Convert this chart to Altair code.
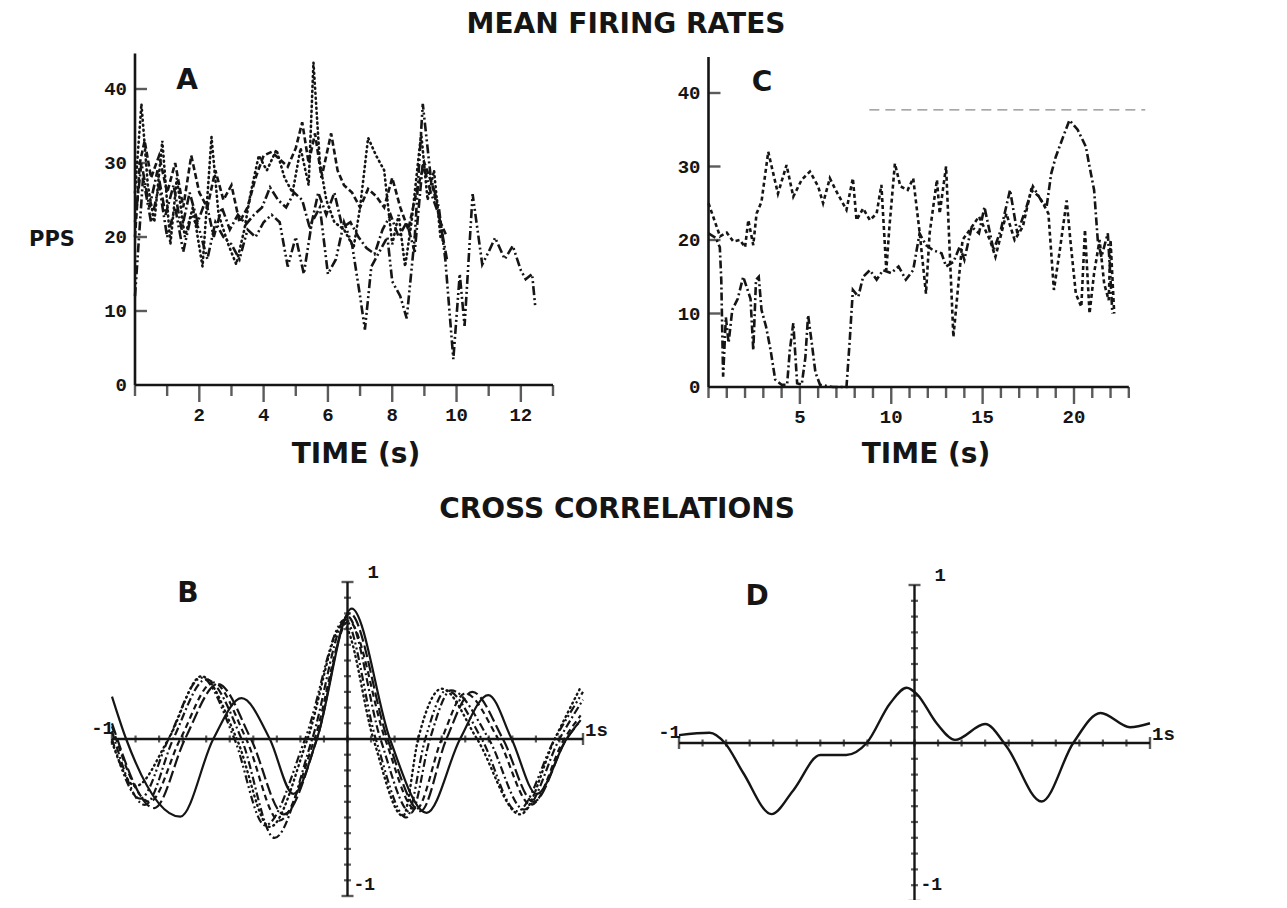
import altair as alt
import pandas as pd

INK = "#151515"
MONO = "Liberation Mono"
SANS = "DejaVu Sans"

# ---------------- data ----------------
# Panel A: mean firing rates (PPS) of four units vs time (s)
a1_t = [0.0, 0.25, 0.5, 0.75, 1.0, 1.25, 1.5, 1.75, 2.0, 2.25, 2.5, 2.75, 3.0, 3.25, 3.5, 3.75, 4.0, 4.25,
        4.5, 4.75, 5.0, 5.25, 5.5, 5.75, 6.0, 6.25, 6.5, 6.75, 7.0, 7.15, 7.35, 7.6, 7.85, 8.0, 8.25, 8.45,
        8.7, 8.95, 9.2, 9.45, 9.65, 9.9, 10.1, 10.25, 10.5, 10.8, 11.0, 11.2, 11.5, 11.75, 12.0, 12.15,
        12.35, 12.45]
a1_v = [12, 28, 22, 27, 20, 24, 18, 23, 21, 17, 22, 20, 19, 17, 21, 20, 22, 23, 22, 16, 20, 15, 22, 24,
        15, 17, 22, 19, 12, 7.5, 16, 18, 20, 14, 12, 9, 20, 38, 28, 24, 17, 3.5, 15, 8, 25.8, 16.3, 18,
        19.9, 17, 18.8, 15.5, 14.3, 15, 10.5]
a2_t = [0.0, 0.15, 0.3, 0.5, 0.75, 1.0, 1.25, 1.5, 1.75, 2.0, 2.25, 2.5, 2.75, 3.0, 3.25, 3.5, 3.75, 4.0,
        4.25, 4.5, 4.75, 5.0, 5.2, 5.4, 5.6, 5.8, 6.1, 6.3, 6.5, 6.75, 7.0, 7.25, 7.5, 7.75, 8.0, 8.25, 8.5,
        8.75, 9.0, 9.25, 9.5, 9.7]
a2_v = [20, 30, 33, 28, 31, 26, 30, 24, 31, 26, 24, 29, 25, 27, 22, 24, 28, 31, 31.5, 30.5, 29.5, 32,
        35.5, 30, 34, 28, 34, 29, 27, 26, 24, 26.5, 25.5, 24, 28, 24, 21, 26, 30, 27, 22, 20]
a3_t = [0.0, 0.2, 0.4, 0.6, 0.85, 1.1, 1.3, 1.55, 1.8, 2.1, 2.38, 2.6, 2.9, 3.15, 3.4, 3.6, 3.85, 4.1, 4.4,
        4.65, 4.9, 5.15, 5.4, 5.55, 5.75, 5.95, 6.2, 6.5, 6.8, 7.0, 7.25, 7.5, 7.75, 8.0, 8.2, 8.4, 8.6,
        8.9, 9.1, 9.3, 9.5, 9.65]
a3_v = [26, 38, 27, 22, 33, 19, 28, 20, 24, 16, 33.5, 23, 19, 16.3, 21, 26, 31, 29, 31.8, 28, 26, 32, 27,
        43.6, 30, 25, 22, 21, 18.6, 24, 33.4, 31, 29, 19, 23, 16, 22, 34, 25, 29, 20, 19]
a4_t = [0.0, 0.2, 0.45, 0.7, 0.95, 1.2, 1.45, 1.7, 1.95, 2.2, 2.45, 2.7, 2.95, 3.2, 3.45, 3.7, 3.95, 4.2,
        4.45, 4.7, 4.95, 5.2, 5.45, 5.7, 5.95, 6.2, 6.45, 6.7, 6.95, 7.2, 7.45, 7.7, 7.95, 8.2, 8.45, 8.7,
        8.95, 9.2, 9.45, 9.7]
a4_v = [22, 30, 24, 29, 23, 27, 21, 26, 22, 25, 20, 24, 21, 23, 21.7, 23, 24, 26.7, 25, 24, 26, 25, 21,
        26, 23, 26, 21.3, 22, 20, 18.5, 17.7, 21, 23, 20, 22, 18, 30, 26, 23, 17]

# Panel C: mean firing rates (PPS) of two units vs time (s)
c1_t = [0.0, 0.63, 1.0, 1.36, 1.72, 2.0, 2.18, 2.45, 2.63, 2.9, 3.27, 3.8, 4.27, 4.64, 5.1, 5.55, 6.0,
        6.27, 6.64, 7.0, 7.55, 7.9, 8.1, 8.46, 8.83, 9.2, 9.46, 9.73, 9.9, 10.2, 10.5, 10.9, 11.2, 11.55,
        11.9, 12.1, 12.5, 12.65, 13.0, 13.4, 13.9, 14.3, 14.8, 15.4, 15.7, 16.3, 16.75, 17.2, 17.65, 18.1,
        18.6, 18.9, 19.2, 19.6, 19.8, 20.1, 20.4, 20.6, 20.85, 21.1, 21.4, 21.65, 21.9, 22.0, 22.2]
c1_v = [25, 20.5, 21, 19.8, 20, 19, 22.7, 19.3, 23.6, 25.2, 32, 26.3, 30.2, 25.9, 28.2, 29.3, 27.3, 25,
        28.4, 26.6, 24.1, 28.4, 22.7, 24.3, 22.7, 23.6, 27.5, 15.9, 21.8, 30.4, 27.3, 26.8, 28.4, 21.1,
        12.7, 20.9, 28.2, 23.6, 30, 6.8, 20, 21.4, 23.2, 20, 17.7, 23.6, 20, 21.8, 26.8, 25.9, 23.6, 13.2,
        18.2, 25.4, 20, 12.7, 10.9, 21.4, 10, 15.5, 20, 14.1, 11.8, 20, 10]
c2_t = [0.0, 0.4, 0.62, 0.7, 0.8, 0.95, 1.1, 1.3, 1.6, 1.9, 2.1, 2.3, 2.45, 2.6, 2.75, 2.9, 3.15, 3.4,
        3.65, 4.0, 4.3, 4.45, 4.64, 4.85, 5.1, 5.3, 5.45, 5.65, 5.85, 6.1, 6.8, 7.55, 7.73, 7.9, 8.2, 8.46,
        8.83, 9.2, 9.55, 10.0, 10.4, 10.8, 11.2, 11.55, 11.9, 12.3, 12.75, 13.0, 13.4, 13.75, 14.0, 14.4,
        14.8, 15.1, 15.6, 16.0, 16.5, 16.9, 17.4, 17.75, 18.2, 18.5, 18.75, 19.0, 19.4, 19.75, 20.2,
        20.65, 20.85, 21.1, 21.3, 21.5, 21.85, 22.0, 22.1]
c2_v = [20.9, 20.3, 19, 14.5, 1.4, 9.5, 6, 10.5, 12, 15, 13.5, 12, 5, 14.6, 15, 10.5, 8.2, 5, 1.0, 0.3,
        0.3, 5, 8.7, 0.5, 0.3, 4, 9.8, 6, 2, 0.3, 0, 0, 6.4, 13.2, 12.3, 15, 15.9, 14.6, 15.9, 15.5, 16.4,
        14.6, 15.9, 20.9, 19.3, 18.6, 18.2, 16.4, 17, 19.1, 17.3, 21.8, 20.9, 24.5, 18.6, 21.4, 26.8, 20.9,
        24.5, 27.3, 25.4, 24.5, 29, 31.3, 34, 36.3, 35, 32.7, 30, 26.8, 20, 17.7, 20.9, 14.6, 10]
c_scan_line_v = 37.7          # faint scanner streak across panel C
c_scan_line_t = [8.8, 23.9]

# Panel B: cross-correlations (lag in s, r) - six pairs, key points of each curve
b0_x = [-1.0, -0.94, -0.71, -0.57, -0.45, -0.33, -0.23, -0.13, 0.018, 0.18, 0.336, 0.478, 0.598, 0.697, 0.803, 0.93, 0.99]
b0_y = [0.27, 0.0, -0.495, 0.0, 0.26, 0.0, -0.35, 0.0, 0.83, 0.0, -0.47, 0.0, 0.28, 0.0, -0.35, 0.0, 0.12]
b1_x = [-1.0, -0.90, -0.76, -0.62, -0.47, -0.33, -0.17, -0.018, 0.11, 0.236, 0.30, 0.40, 0.55, 0.733, 0.88, 0.99]
b1_y = [-0.02, -0.30, 0.0, 0.40, 0.0, -0.56, 0.0, 0.73, 0.0, -0.49, 0.0, 0.32, 0.0, -0.48, 0.0, 0.33]
b2_x = [-1.0, -0.86, -0.74, -0.60, -0.45, -0.31, -0.15, 0.0, 0.14, 0.27, 0.35, 0.44, 0.60, 0.75, 0.90, 1.0]
b2_y = [0.05, -0.42, 0.0, 0.38, 0.0, -0.63, 0.0, 0.78, 0.0, -0.47, 0.0, 0.31, 0.0, -0.45, 0.0, 0.25]
b3_x = [-1.0, -0.84, -0.71, -0.57, -0.43, -0.29, -0.14, 0.005, 0.16, 0.29, 0.40, 0.50, 0.64, 0.78, 0.92, 0.99]
b3_y = [0.08, -0.40, 0.0, 0.36, 0.0, -0.52, 0.0, 0.75, 0.0, -0.45, 0.0, 0.29, 0.0, -0.42, 0.0, 0.15]
b4_x = [-1.0, -0.88, -0.76, -0.62, -0.48, -0.35, -0.18, -0.01, 0.12, 0.25, 0.33, 0.42, 0.57, 0.72, 0.88, 1.0]
b4_y = [0.0, -0.38, 0.0, 0.39, 0.0, -0.55, 0.0, 0.76, 0.0, -0.50, 0.0, 0.31, 0.0, -0.46, 0.0, 0.30]
b5_x = [-1.0, -0.82, -0.69, -0.55, -0.41, -0.27, -0.13, 0.01, 0.17, 0.31, 0.42, 0.53, 0.66, 0.79, 0.93, 0.98]
b5_y = [0.10, -0.44, 0.0, 0.35, 0.0, -0.48, 0.0, 0.80, 0.0, -0.46, 0.0, 0.30, 0.0, -0.40, 0.0, 0.10]

# Panel D: cross-correlation of the two units in C
d_x = [-1.0, -0.87, -0.805, -0.727, -0.607, -0.515, -0.40, -0.29, -0.203, -0.104, -0.033, 0.01, 0.094,
       0.172, 0.30, 0.39, 0.54, 0.674, 0.79, 0.915, 1.0]
d_y = [0.05, 0.065, 0.0, -0.19, -0.45, -0.30, -0.076, -0.076, 0.0, 0.25, 0.35, 0.31, 0.125, 0.02, 0.12,
       -0.02, -0.37, 0.0, 0.19, 0.10, 0.125]

# tick labels / tick positions
a_xlabels = [2, 4, 6, 8, 10, 12]
a_ylabels = [0, 10, 20, 30, 40]
a_xticks = list(range(0, 14))
a_xmajor = [2, 4, 6, 8, 10, 12]
c_xlabels = [5, 10, 15, 20]
c_ylabels = [0, 10, 20, 30, 40]
c_xticks = list(range(0, 24))
c_xmajor = [5, 10, 15, 20]
corr_ticks = [round(-1 + 0.1 * i, 1) for i in range(21)]

# ---------------- layout (page pixels) ----------------
W, H, M = 1271, 892, 8


def dom_x(v0, p0, v1, p1):
    p0, p1 = p0 - M, p1 - M
    k = (p1 - p0) / (v1 - v0)
    d0 = v0 - p0 / k
    return [d0, d0 + W / k]


def dom_y(v0, p0, v1, p1):
    q0, q1 = H - (p0 - M), H - (p1 - M)
    k = (q1 - q0) / (v1 - v0)
    d0 = v0 - q0 / k
    return [d0, d0 + H / k]


def sc(dom):
    return alt.Scale(domain=dom, nice=False, zero=False)


def enc(xs, ys, xf="x", yf="y"):
    return dict(x=alt.X(f"{xf}:Q", scale=xs, axis=None), y=alt.Y(f"{yf}:Q", scale=ys, axis=None))


def line(xv, yv, xs, ys, dash=None, width=2.6, interp="linear", cap="butt"):
    df = pd.DataFrame({"x": xv, "y": yv})
    kw = dict(color=INK, strokeWidth=width, interpolate=interp, strokeCap=cap, clip=False)
    if dash:
        kw["strokeDash"] = dash
    return alt.Chart(df).mark_line(**kw).encode(**enc(xs, ys))


def rule(x0, x1, y0, y1, xs, ys, width=2.6, color=INK, dash=None):
    df = pd.DataFrame({"x": [x0], "x2": [x1], "y": [y0], "y2": [y1]})
    kw = dict(color=color, strokeWidth=width)
    if dash:
        kw["strokeDash"] = dash
    return alt.Chart(df).mark_rule(**kw).encode(x2="x2:Q", y2="y2:Q", **enc(xs, ys))


def ticks(xv, yv, xs, ys, orient, size, off=0, thick=2.4):
    df = pd.DataFrame({"x": xv, "y": yv})
    kw = dict(color=INK, orient=orient, size=size, thickness=thick)
    if orient == "vertical":
        kw["yOffset"] = off
    else:
        kw["xOffset"] = off
    return alt.Chart(df).mark_tick(**kw).encode(**enc(xs, ys))


def labels(xv, yv, texts, xs, ys, align="center", baseline="middle", dx=0, dy=0, size=19):
    df = pd.DataFrame({"x": xv, "y": yv, "label": texts})
    return alt.Chart(df).mark_text(font=MONO, fontWeight="bold", fontSize=size, color=INK,
                                   align=align, baseline=baseline, dx=dx, dy=dy).encode(
        text="label:N", **enc(xs, ys))


def time_panel(xs, ys, xmax, ytop, xticks_all, xmajor, xlabels, ylabels, series):
    layers = []
    layers.append(rule(0, 0, 0, ytop, xs, ys))
    layers.append(rule(0, xmax, 0, 0, xs, ys))
    minor = [t for t in xticks_all if t not in xmajor]
    layers.append(ticks(minor, [0] * len(minor), xs, ys, "vertical", 11, 5.5))
    layers.append(ticks(xmajor, [0] * len(xmajor), xs, ys, "vertical", 17, 8.5))
    yt = [v for v in ylabels if v != 0]
    layers.append(ticks([0] * len(yt), yt, xs, ys, "horizontal", 12, 6))
    layers.append(labels(xlabels, [0] * len(xlabels), [str(v) for v in xlabels], xs, ys, dy=30))
    layers.append(labels([0] * len(ylabels), ylabels, [str(v) for v in ylabels], xs, ys,
                         align="right", dx=-8))
    layers += series
    return alt.layer(*layers)


def corr_panel(xs, ys, series, bottom_dy):
    inner = [t for t in corr_ticks if abs(t) < 1]
    ends = [-1.0, 1.0]
    layers = [
        rule(-1, 1, 0, 0, xs, ys, width=2.4),
        rule(0, 0, -1, 1, xs, ys, width=2.4),
        ticks(inner, [0] * len(inner), xs, ys, "vertical", 7, 0, 2.2),
        ticks(ends, [0, 0], xs, ys, "vertical", 12, 0, 2.4),
        ticks([0] * len(inner), inner, xs, ys, "horizontal", 7, 0, 2.2),
        ticks([0, 0], ends, xs, ys, "horizontal", 12, 0, 2.4),
        labels([-1], [0], ["-1"], xs, ys, align="right", baseline="bottom", dx=2, dy=-1),
        labels([1], [0], ["1s"], xs, ys, align="left", baseline="bottom", dx=2, dy=1),
        labels([0], [1], ["1"], xs, ys, align="left", baseline="bottom", dx=20, dy=0),
        labels([0], [-1], ["-1"], xs, ys, align="left", baseline="bottom", dx=6, dy=bottom_dy, size=18),
    ]
    layers += series
    return alt.layer(*layers)


# ---- panel A ----
axA, ayA = sc(dom_x(0, 135, 13, 553)), sc(dom_y(0, 385, 40, 89))
panelA = time_panel(axA, ayA, 13, 44.8, a_xticks, a_xmajor, a_xlabels, a_ylabels, [
    line(a1_t, a1_v, axA, ayA, dash=[9, 3, 2, 3, 2, 3]),
    line(a2_t, a2_v, axA, ayA, dash=[6, 3]),
    line(a3_t, a3_v, axA, ayA, dash=[1, 4], cap="round"),
    line(a4_t, a4_v, axA, ayA, dash=[9, 3, 2, 3]),
])

# ---- panel C ----
axC, ayC = sc(dom_x(0, 708.5, 20, 1074)), sc(dom_y(0, 387, 40, 93))
panelC = time_panel(axC, ayC, 23, 44.9, c_xticks, c_xmajor, c_xlabels, c_ylabels, [
    rule(c_scan_line_t[0], c_scan_line_t[1], c_scan_line_v, c_scan_line_v, axC, ayC,
         width=1.3, color="#8a8a8a", dash=[10, 6]),
    line(c1_t, c1_v, axC, ayC, dash=[4, 3]),
    line(c2_t, c2_v, axC, ayC, dash=[8, 3, 2, 3]),
])

# ---- panel B ----
axB, ayB = sc(dom_x(-1, 112, 1, 583)), sc(dom_y(0, 739, 1, 582))
panelB = corr_panel(axB, ayB, [
    line(b0_x, b0_y, axB, ayB, width=2.2, interp="monotone"),
    line(b1_x, b1_y, axB, ayB, dash=[1, 4], width=2.4, interp="monotone", cap="round"),
    line(b2_x, b2_y, axB, ayB, dash=[8, 3, 2, 3], width=2.2, interp="monotone"),
    line(b3_x, b3_y, axB, ayB, dash=[6, 4], width=2.2, interp="monotone"),
    line(b4_x, b4_y, axB, ayB, dash=[8, 3, 2, 3, 2, 3], width=2.2, interp="monotone"),
    line(b5_x, b5_y, axB, ayB, dash=[12, 4], width=2.2, interp="monotone"),
], bottom_dy=-2)

# ---- panel D ----
axD, ayD = sc(dom_x(-1, 679, 1, 1150)), sc(dom_y(0, 743, 1, 585))
panelD = corr_panel(axD, ayD, [
    line(d_x, d_y, axD, ayD, width=2.4, interp="monotone"),
], bottom_dy=-7)


# ---- titles and letters (page pixel positions) ----
def title(text, px, py, size, align="center"):
    return alt.Chart(pd.DataFrame({"label": [text]})).mark_text(
        font=SANS, fontWeight="bold", fontSize=size, color=INK, align=align, baseline="middle").encode(
        text="label:N", x=alt.value(px - M), y=alt.value(py - M))


titles = alt.layer(
    title("MEAN FIRING RATES", 626, 25, 28),
    title("CROSS CORRELATIONS", 617, 510, 28),
    title("PPS", 52, 240, 21),
    title("TIME (s)", 356, 455, 28),
    title("TIME (s)", 926, 455, 28),
    title("A", 187, 81, 28),
    title("C", 762, 83, 28),
    title("B", 188, 594, 28),
    title("D", 757, 597, 28),
)

chart = alt.layer(panelA, panelC, panelB, panelD, titles).resolve_scale(
    x="independent", y="independent"
).properties(
    width=W, height=H, padding=0, autosize=alt.AutoSizeParams(type="none"), background="white"
).configure_view(stroke=None)

chart.save("out.html", embed_options={"renderer": "svg", "actions": False})
